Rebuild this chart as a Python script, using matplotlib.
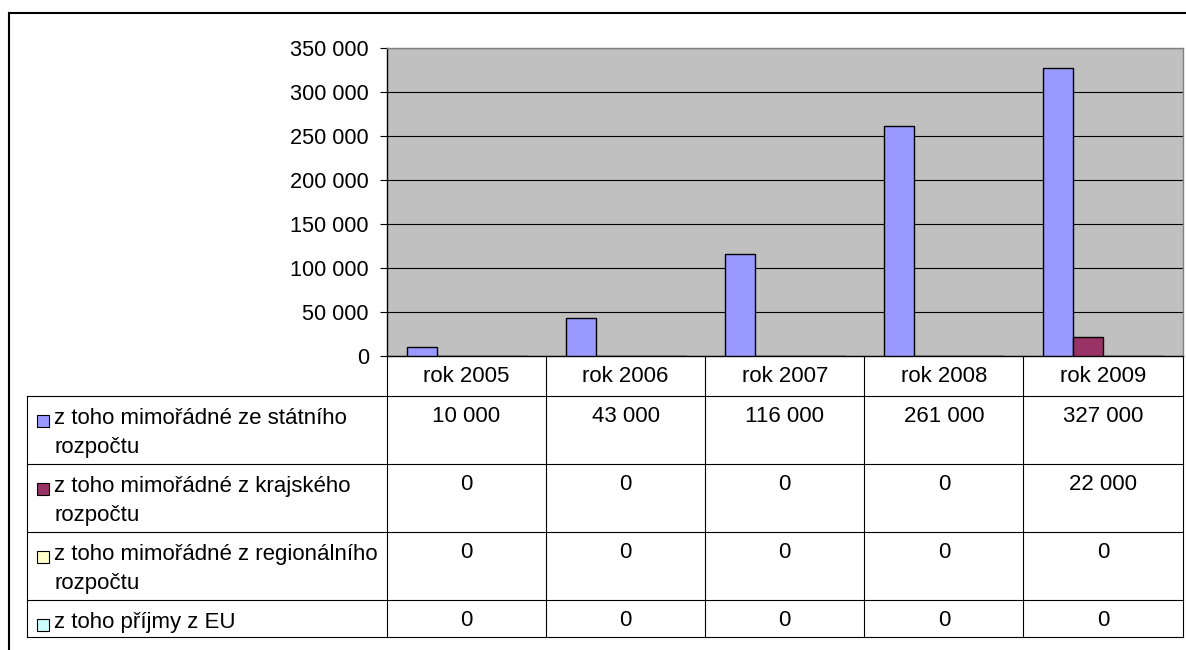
import matplotlib
matplotlib.use("Agg")
import matplotlib.pyplot as plt
from matplotlib.patches import Rectangle
import numpy as np

plt.rcParams['font.family'] = ['Liberation Sans', 'DejaVu Sans']

# ---- data ----
years = ["rok 2005", "rok 2006", "rok 2007", "rok 2008", "rok 2009"]
series_labels = [
    ["z toho mimořádné ze státního", "rozpočtu"],
    ["z toho mimořádné z krajského", "rozpočtu"],
    ["z toho mimořádné z regionálního", "rozpočtu"],
    ["z toho příjmy z EU"],
]
statni = [10000, 43000, 116000, 261000, 327000]
krajsky = [0, 0, 0, 0, 22000]
regionalni = [0, 0, 0, 0, 0]
eu = [0, 0, 0, 0, 0]
series = [statni, krajsky, regionalni, eu]
colors = ["#9999FF", "#993366", "#FFFFCC", "#CCFFFF"]
yticks = [0, 50000, 100000, 150000, 200000, 250000, 300000, 350000]

W, H = 1186, 650
fig = plt.figure(figsize=(W / 100, H / 100), dpi=100)

# chart area in pixels
L, R, T, B = 387, 1183, 48, 356
ax = fig.add_axes([L / W, 1 - B / H, (R - L) / W, (B - T) / H])
ax.set_facecolor("#C0C0C0")
ncat = len(years)
x = np.arange(ncat)
colw = (R - 0.5 - L) / ncat
w = 30 / colw
for j, (vals, c) in enumerate(zip(series, colors)):
    ax.bar(x + (j - 1.5) * w, vals, width=w, color=c, edgecolor="black",
           linewidth=1.0, zorder=3)
ax.set_xlim(-0.5, ncat - 0.5)
ax.set_ylim(0, 350000)
ax.set_yticks(yticks)
ax.set_yticklabels([f"{v:,}".replace(",", " ") for v in yticks], fontsize=15.7)
ax.tick_params(axis="y", length=5, width=0.8, pad=8, color="black")
ax.set_xticks([])
ax.grid(axis="y", color="black", linewidth=0.8, zorder=1)
ax.set_axisbelow(True)
ax.spines["left"].set_color("black")
ax.spines["bottom"].set_color("black")
ax.spines["top"].set_color("#808080")
ax.spines["right"].set_color("#808080")
for s in ax.spines.values():
    s.set_linewidth(1.0)

# overlay for table and frame
ov = fig.add_axes([0, 0, 1, 1])
ov.set_xlim(0, W)
ov.set_ylim(H, 0)
ov.axis("off")
ov.patch.set_alpha(0)

lw = 0.8
tl, tr = 27, 1182.5
row_edges = [396, 464, 532, 600, 637]
# horizontal lines
for y in row_edges:
    ov.plot([tl, tr], [y, y], color="black", lw=lw)
# vertical lines
col_edges = [L + colw * i for i in range(ncat + 1)]
for xe in col_edges:
    ov.plot([xe, xe], [B, row_edges[-1]], color="black", lw=lw)
ov.plot([tl, tl], [row_edges[0], row_edges[-1]], color="black", lw=lw)

fs = 16
# header
for i, yr in enumerate(years):
    ov.text(L + colw * (i + 0.5), 382.5, yr, ha="center", va="baseline", fontsize=fs)
# rows
for r, (lab, vals, c) in enumerate(zip(series_labels, series, colors)):
    top = row_edges[r]
    ov.add_patch(Rectangle((37, top + 19), 11.5, 11.5, facecolor=c,
                           edgecolor="black", lw=0.8))
    for k, line in enumerate(lab):
        ov.text(54, top + 28 + 28.5 * k, line, ha="left", va="baseline", fontsize=fs)
    for i, v in enumerate(vals):
        ov.text(L + colw * (i + 0.5), top + 26.5, f"{v:,}".replace(",", " "),
                ha="center", va="baseline", fontsize=fs)

# outer frame
ov.plot([8.5, W], [12.5, 12.5], color="black", lw=1.5)
ov.plot([8.5, 8.5], [12.5, H], color="black", lw=1.5)

fig.savefig("out.png", dpi=100)
